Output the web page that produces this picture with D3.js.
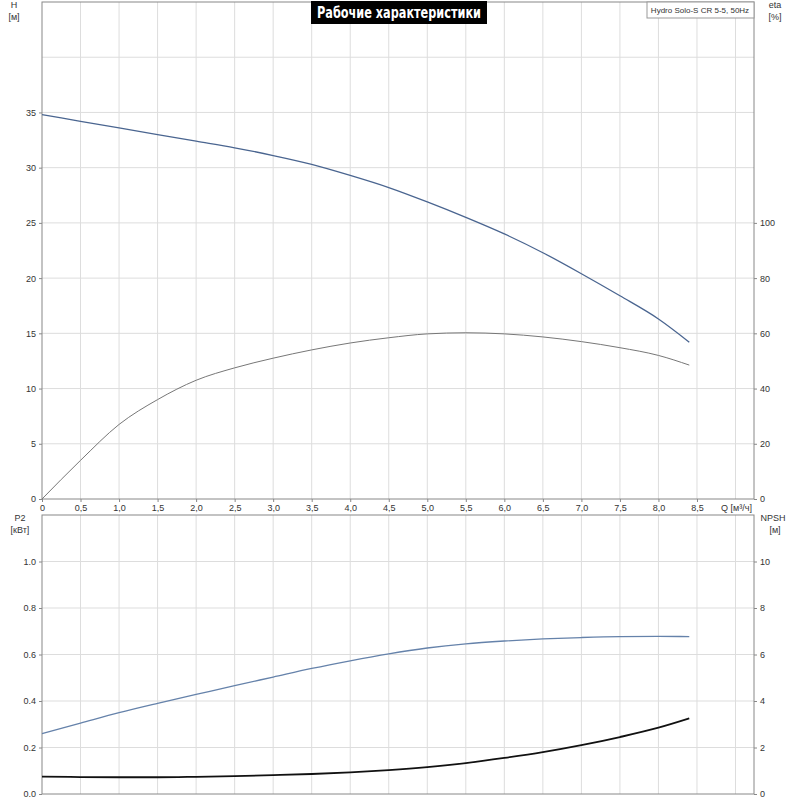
<!DOCTYPE html>
<html><head><meta charset="utf-8">
<script src="https://cdn.jsdelivr.net/npm/d3@7"></script>
<style>body{margin:0;background:#fff}text{font-family:"Liberation Sans",Arial,sans-serif;font-size:9px;fill:#333}</style>
</head><body><div id="root"></div>
<script>
const width = 800, height = 800;

// Data
const flowQ = [0, 0.5, 1, 1.5, 2, 2.5, 3, 3.5, 4, 4.5, 5, 5.5, 6, 6.5, 7, 7.5, 8, 8.4];
const headH = [34.8, 34.2, 33.6, 33.0, 32.4, 31.8, 31.1, 30.3, 29.3, 28.2, 26.9, 25.5, 24.0, 22.3, 20.4, 18.4, 16.3, 14.2];
const etaPct = [0, 14, 27, 36, 43, 47.5, 51, 54, 56.5, 58.4, 59.8, 60.2, 59.8, 58.7, 57, 54.8, 52, 48.5];
const powerP2 = [0.26, 0.305, 0.35, 0.39, 0.428, 0.466, 0.503, 0.54, 0.573, 0.603, 0.628, 0.646, 0.658, 0.667, 0.673, 0.677, 0.678, 0.677];
const npshM = [0.75, 0.73, 0.72, 0.72, 0.74, 0.77, 0.81, 0.86, 0.93, 1.03, 1.16, 1.33, 1.55, 1.8, 2.1, 2.45, 2.85, 3.25];
const qTicks = [0, 0.5, 1, 1.5, 2, 2.5, 3, 3.5, 4, 4.5, 5, 5.5, 6, 6.5, 7, 7.5, 8, 8.5];
const hTicks = [0, 5, 10, 15, 20, 25, 30, 35];
const etaTicks = [0, 20, 40, 60, 80, 100];
const p2Ticks = [0, 0.2, 0.4, 0.6, 0.8, 1.0];
const npshTicks = [0, 2, 4, 6, 8, 10];

const svg = d3.select('#root').append('svg').attr('width', width).attr('height', height);

const left = 42, right = 754;
const x = d3.scaleLinear().domain([0, 9.24]).range([left, right]);
const yH = d3.scaleLinear().domain([0, 45]).range([499, 2]);
const yEta = d3.scaleLinear().domain([0, 180]).range([499, 2]);
const yP = d3.scaleLinear().domain([0, 1.2]).range([794, 515]);
const yN = d3.scaleLinear().domain([0, 12]).range([794, 515]);

function panel(y0, y1, yScale, hGrid) {
  const g = svg.append('g');
  d3.range(0.5, 9.01, 0.5).forEach(q => {
    g.append('line').attr('x1', x(q)).attr('x2', x(q)).attr('y1', y0).attr('y2', y1)
      .attr('stroke', '#ddd');
  });
  hGrid.forEach(v => {
    g.append('line').attr('x1', left).attr('x2', right).attr('y1', yScale(v)).attr('y2', yScale(v))
      .attr('stroke', '#ddd');
  });
  g.append('rect').attr('x', left).attr('y', y0).attr('width', right - left).attr('height', y1 - y0)
    .attr('fill', 'none').attr('stroke', '#888');
}

panel(2, 499, yH, d3.range(5, 45, 5));
panel(515, 794, yP, d3.range(0.2, 1.19, 0.2));

function leftAxis(scale, ticks, fmt) {
  svg.append('g').attr('transform', `translate(${left},0)`)
    .call(d3.axisLeft(scale).tickValues(ticks).tickSize(3).tickFormat(fmt))
    .call(g => { g.select('.domain').remove(); g.selectAll('line').attr('stroke', '#888'); });
}
function rightAxis(scale, ticks, fmt) {
  svg.append('g').attr('transform', `translate(${right},0)`)
    .call(d3.axisRight(scale).tickValues(ticks).tickSize(3).tickFormat(fmt))
    .call(g => { g.select('.domain').remove(); g.selectAll('line').attr('stroke', '#888'); });
}
const comma = d => d3.format('.1f')(d).replace('.', ',');
leftAxis(yH, hTicks, d => d);
rightAxis(yEta, etaTicks, d => d);
leftAxis(yP, p2Ticks, d => d3.format('.1f')(d));
rightAxis(yN, npshTicks, d => d);

svg.append('g').attr('transform', 'translate(0,499)')
  .call(d3.axisBottom(x).tickValues(qTicks).tickSize(3).tickFormat(d => d === 0 ? '0' : comma(d)))
  .call(g => { g.select('.domain').remove(); g.selectAll('line').attr('stroke', '#888'); });

svg.selectAll('text').style('font-size', '9px');

// axis titles
const label = (tx, ty, t, anchor) => svg.append('text').attr('x', tx).attr('y', ty)
  .attr('text-anchor', anchor || 'middle').text(t);
label(14, 8, 'H'); label(14, 20, '[м]');
label(775, 8, 'eta'); label(775, 20, '[%]');
label(20, 521, 'P2'); label(20, 533, '[кВт]');
label(773, 521, 'NPSH'); label(775, 533, '[м]');
label(752, 511, 'Q [м³/ч]', 'end');

// title
svg.append('rect').attr('x', 311).attr('y', 1).attr('width', 176).attr('height', 23).attr('fill', '#000');
svg.append('text').attr('x', 399).attr('y', 18).attr('text-anchor', 'middle')
  .attr('textLength', 164).attr('lengthAdjust', 'spacingAndGlyphs')
  .style('font-size', '15px').style('fill', '#fff').style('font-weight', 'bold')
  .style('font-family', '"Liberation Sans Narrow","DejaVu Sans Condensed",sans-serif').text('Рабочие характеристики');

// legend box
svg.append('rect').attr('x', 647).attr('y', 2).attr('width', 107).attr('height', 16)
  .attr('fill', '#fff').attr('stroke', '#999');
svg.append('text').attr('x', 700).attr('y', 13).attr('text-anchor', 'middle')
  .style('font-size', '8px').text('Hydro Solo-S CR 5-5, 50Hz');

// curves
function curve(values, yScale, color, w) {
  const line = d3.line().x((d, i) => x(flowQ[i])).y(d => yScale(d)).curve(d3.curveMonotoneX);
  svg.append('path').attr('d', line(values)).attr('fill', 'none').attr('stroke', color).attr('stroke-width', w);
}
curve(headH, yH, '#4a6590', 1.3);
curve(etaPct, yEta, '#777', 1);
curve(powerP2, yP, '#6582aa', 1.3);
curve(npshM, yN, '#111', 1.8);
</script></body></html>
